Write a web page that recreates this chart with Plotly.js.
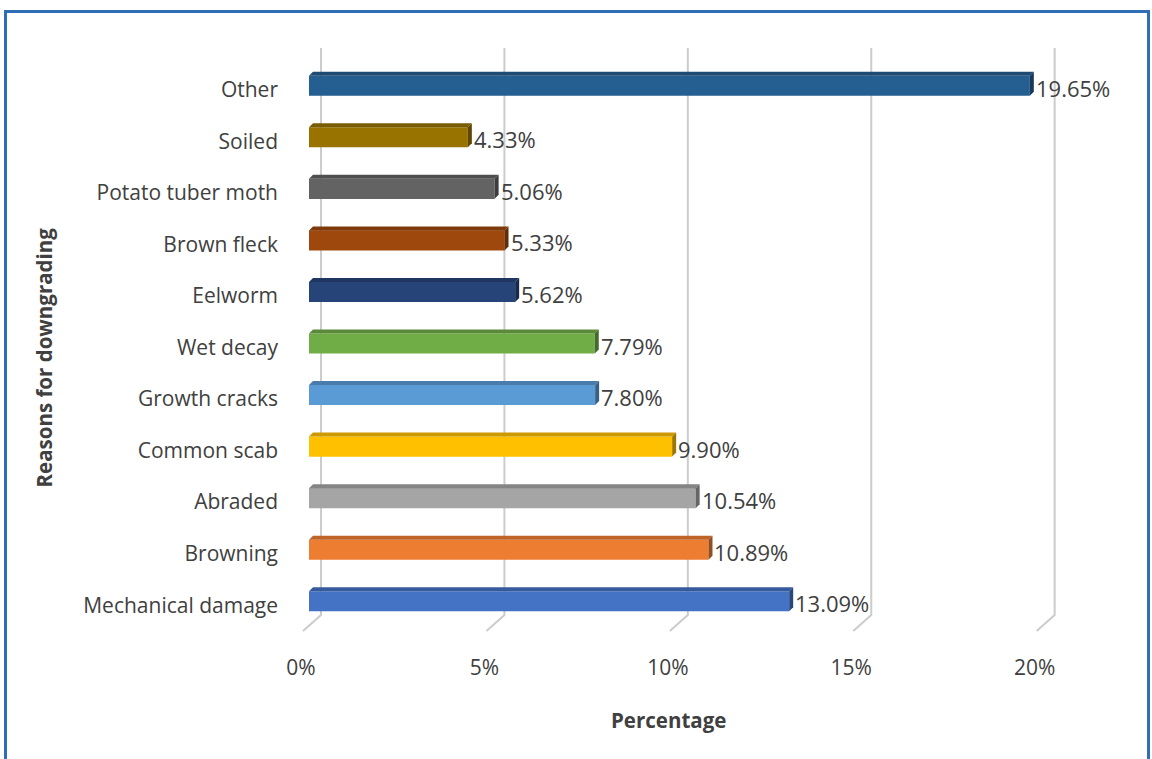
<!DOCTYPE html>
<html>
<head>
<meta charset="utf-8">
<script src="https://cdn.plot.ly/plotly-3.0.1.min.js"></script>
<style>
  html, body { margin: 0; padding: 0; background: #ffffff; }
  #chart { width: 1152px; height: 759px; }
  #frame { position: absolute; left: 4px; top: 10px; width: 1140px; height: 760px;
           border: 3px solid #2f6db5; border-bottom: none; pointer-events: none; }
</style>
</head>
<body>
<div id="chart"></div>
<div id="frame"></div>
<script>
const categories = ['Mechanical damage', 'Browning', 'Abraded', 'Common scab', 'Growth cracks',
  'Wet decay', 'Eelworm', 'Brown fleck', 'Potato tuber moth', 'Soiled', 'Other'];
const values = [13.09, 10.89, 10.54, 9.90, 7.80, 7.79, 5.62, 5.33, 5.06, 4.33, 19.65];
const barColors = ['#4472C4', '#ED7D31', '#A5A5A5', '#FFC000', '#5B9BD5', '#70AD47',
  '#264478', '#9E480E', '#636363', '#997300', '#255E91'];
const tickValues = [0, 5, 10, 15, 20];
const tickLabels = ['0%', '5%', '10%', '15%', '20%'];
const xTitle = 'Percentage';
const yTitle = 'Reasons for downgrading';

function shade(hex, f) {
  const n = parseInt(hex.slice(1), 16);
  const r = Math.round(((n >> 16) & 255) * f), g = Math.round(((n >> 8) & 255) * f), b = Math.round((n & 255) * f);
  return 'rgb(' + r + ',' + g + ',' + b + ')';
}

const FONT = 'Open Sans, Noto Sans, Liberation Sans, sans-serif';
const TXT = '#404040';
const HALF = 10;      // half bar height in px
const DX = 4, DY = 4; // 3D depth offset in px
const X_MIN = -0.3, X_MAX = 20.5;
const M_L = 298, M_R = 91;
const PLOT_W = 1152 - M_L - M_R;
const PX_PER_UNIT = PLOT_W / (X_MAX - X_MIN);
const X0_PX = M_L - X_MIN * PX_PER_UNIT;

const shapes = [];
// back-wall gridlines with floor diagonal
tickValues.forEach(v => {
  shapes.push({
    type: 'path', layer: 'below', xref: 'x', xsizemode: 'pixel', xanchor: v,
    yref: 'paper', ysizemode: 'pixel', yanchor: 0,
    path: 'M -6,-4 L 12,12 L 12,579',
    line: { color: '#cccccc', width: 2 }
  });
});
// 3D faces for each bar
categories.forEach((c, i) => {
  const v = values[i];
  const d = DX / PX_PER_UNIT;
  shapes.push({
    type: 'path', layer: 'above', xref: 'x', yref: 'y', ysizemode: 'pixel', yanchor: c,
    path: 'M 0,' + HALF + ' L ' + v + ',' + HALF + ' L ' + (v + d) + ',' + (HALF + DY) + ' L ' + d + ',' + (HALF + DY) + ' Z',
    fillcolor: shade(barColors[i], 0.8), line: { width: 0 }
  });
  shapes.push({
    type: 'path', layer: 'above', xref: 'x', xsizemode: 'pixel', xanchor: v,
    yref: 'y', ysizemode: 'pixel', yanchor: c,
    path: 'M 0,' + HALF + ' L ' + DX + ',' + (HALF + DY) + ' L ' + DX + ',' + (-HALF + DY) + ' L 0,' + (-HALF) + ' Z',
    fillcolor: shade(barColors[i], 0.62), line: { width: 0 }
  });
});

const annotations = categories.map((c, i) => ({
  x: values[i], y: c, xref: 'x', yref: 'y', text: values[i].toFixed(2) + '%',
  showarrow: false, xanchor: 'left', yanchor: 'middle', xshift: 4, yshift: -2,
  font: { family: FONT, size: 22, color: TXT }
}));
annotations.push({
  x: (43 - M_L) / PLOT_W, y: 0.5, xref: 'paper', yref: 'paper', text: '<b>' + yTitle + '</b>',
  textangle: -90, showarrow: false, xanchor: 'center', yanchor: 'middle', yshift: -14,
  font: { family: FONT, size: 20.5, color: TXT }
});
annotations.push({
  x: (668 - M_L) / PLOT_W, y: 0, xref: 'paper', yref: 'paper', text: '<b>' + xTitle + '</b>',
  showarrow: false, xanchor: 'center', yanchor: 'middle', yshift: -(720 - 627),
  font: { family: FONT, size: 20.5, color: TXT }
});

const trace = {
  type: 'bar', orientation: 'h', x: values, y: categories,
  marker: { color: barColors, line: { width: 0 } },
  hoverinfo: 'skip'
};

const layout = {
  width: 1152, height: 759,
  margin: { l: M_L, r: M_R, t: 60, b: 132 },
  paper_bgcolor: '#ffffff', plot_bgcolor: 'rgba(0,0,0,0)',
  showlegend: false,
  bargap: 0.61,
  xaxis: {
    range: [X_MIN, X_MAX], tickvals: tickValues, ticktext: tickLabels,
    showgrid: false, zeroline: false, showline: false, ticks: '',
    ticklabelstandoff: 26, ticklabelshift: -8,
    tickfont: { family: FONT, size: 21, color: TXT }, fixedrange: true
  },
  yaxis: {
    type: 'category', range: [-0.5, 10.5],
    showgrid: false, zeroline: false, showline: false, ticks: '',
    ticklabelstandoff: 19, ticklabelshift: 4,
    tickfont: { family: FONT, size: 21, color: TXT }, fixedrange: true
  },
  shapes: shapes,
  annotations: annotations
};

Plotly.newPlot('chart', [trace], layout, { displayModeBar: false, staticPlot: true });
</script>
</body>
</html>
